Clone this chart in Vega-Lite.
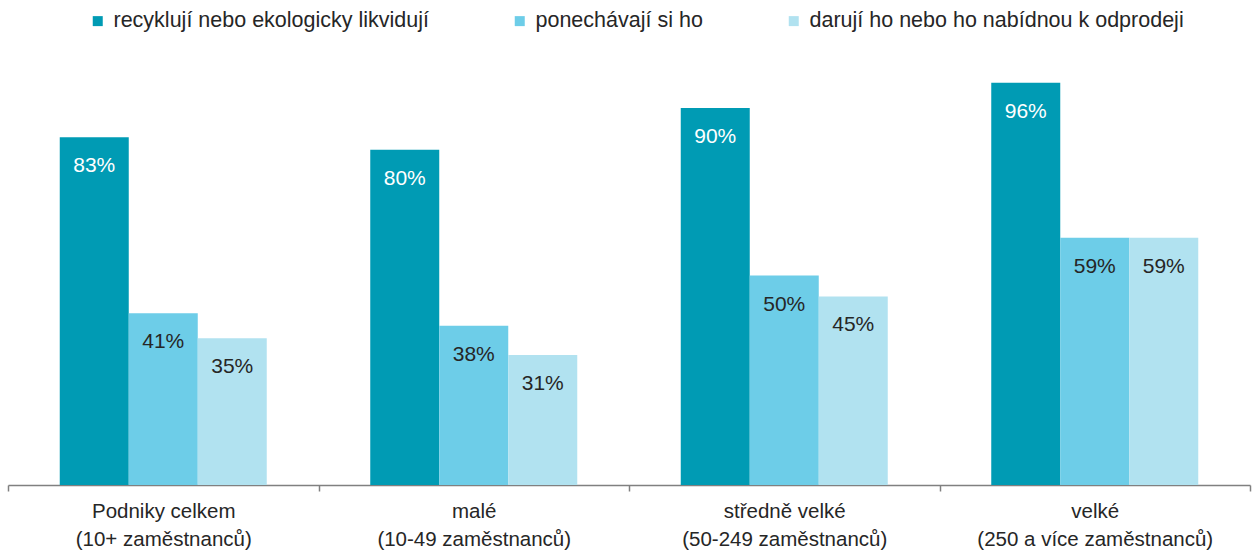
{
  "$schema": "https://vega.github.io/schema/vega-lite/v6.json",
  "width": 1242,
  "height": 419,
  "autosize": {"type": "none"},
  "padding": {"left": 8, "top": 66, "right": 3, "bottom": 65},
  "background": "white",
  "config": {
    "view": {"stroke": null},
    "font": "Liberation Sans"
  },
  "data": {
    "values": [
      {"skupina": "Podniky celkem|(10+ zaměstnanců)", "serie": "recyklují nebo ekologicky likvidují", "hodnota": 83},
      {"skupina": "Podniky celkem|(10+ zaměstnanců)", "serie": "ponechávají si ho", "hodnota": 41},
      {"skupina": "Podniky celkem|(10+ zaměstnanců)", "serie": "darují ho nebo ho nabídnou k odprodeji", "hodnota": 35},
      {"skupina": "malé|(10-49 zaměstnanců)", "serie": "recyklují nebo ekologicky likvidují", "hodnota": 80},
      {"skupina": "malé|(10-49 zaměstnanců)", "serie": "ponechávají si ho", "hodnota": 38},
      {"skupina": "malé|(10-49 zaměstnanců)", "serie": "darují ho nebo ho nabídnou k odprodeji", "hodnota": 31},
      {"skupina": "středně velké|(50-249 zaměstnanců)", "serie": "recyklují nebo ekologicky likvidují", "hodnota": 90},
      {"skupina": "středně velké|(50-249 zaměstnanců)", "serie": "ponechávají si ho", "hodnota": 50},
      {"skupina": "středně velké|(50-249 zaměstnanců)", "serie": "darují ho nebo ho nabídnou k odprodeji", "hodnota": 45},
      {"skupina": "velké|(250 a více zaměstnanců)", "serie": "recyklují nebo ekologicky likvidují", "hodnota": 96},
      {"skupina": "velké|(250 a více zaměstnanců)", "serie": "ponechávají si ho", "hodnota": 59},
      {"skupina": "velké|(250 a více zaměstnanců)", "serie": "darují ho nebo ho nabídnou k odprodeji", "hodnota": 59}
    ]
  },
  "transform": [
    {"calculate": "datum.hodnota + '%'", "as": "popisek"}
  ],
  "encoding": {
    "x": {
      "field": "skupina",
      "type": "nominal",
      "sort": null,
      "scale": {"paddingInner": 0, "paddingOuter": 0},
      "axis": {
        "title": null,
        "labelAngle": 0,
        "labelExpr": "split(datum.label, '|')",
        "labelFontSize": 20.5,
        "labelLineHeight": 28,
        "labelColor": "#262626",
        "labelPadding": 10,
        "labelLimit": 400,
        "domainColor": "#808080",
        "domainWidth": 1.5,
        "tickColor": "#808080",
        "tickWidth": 1.5,
        "tickSize": 6,
        "tickBand": "extent",
        "grid": false
      }
    },
    "xOffset": {
      "field": "serie",
      "type": "nominal",
      "sort": ["recyklují nebo ekologicky likvidují", "ponechávají si ho", "darují ho nebo ho nabídnou k odprodeji"],
      "scale": {"paddingInner": 0, "paddingOuter": 0.75}
    },
    "y": {
      "field": "hodnota",
      "type": "quantitative",
      "scale": {"domain": [0, 100]},
      "axis": null
    }
  },
  "layer": [
    {
      "mark": {"type": "bar"},
      "encoding": {
        "color": {
          "field": "serie",
          "type": "nominal",
          "sort": ["recyklují nebo ekologicky likvidují", "ponechávají si ho", "darují ho nebo ho nabídnou k odprodeji"],
          "scale": {
            "domain": ["recyklují nebo ekologicky likvidují", "ponechávají si ho", "darují ho nebo ho nabídnou k odprodeji"],
            "range": ["#009BB4", "#6DCDE8", "#B1E2F0"]
          },
          "legend": {
            "title": null,
            "orient": "none",
            "direction": "horizontal",
            "legendX": 79,
            "legendY": -56,
            "symbolType": "square",
            "symbolSize": 100,
            "symbolStrokeWidth": 0,
            "labelFontSize": 21.5,
            "labelColor": "#262626",
            "labelOffset": 5,
            "columnPadding": 80,
            "labelLimit": 500
          }
        }
      }
    },
    {
      "mark": {"type": "text", "baseline": "middle", "dy": 29, "fontSize": 21},
      "encoding": {
        "text": {"field": "popisek", "type": "nominal"},
        "color": {
          "condition": {"test": "datum.serie === 'recyklují nebo ekologicky likvidují'", "value": "white"},
          "value": "#262626"
        }
      }
    }
  ]
}
